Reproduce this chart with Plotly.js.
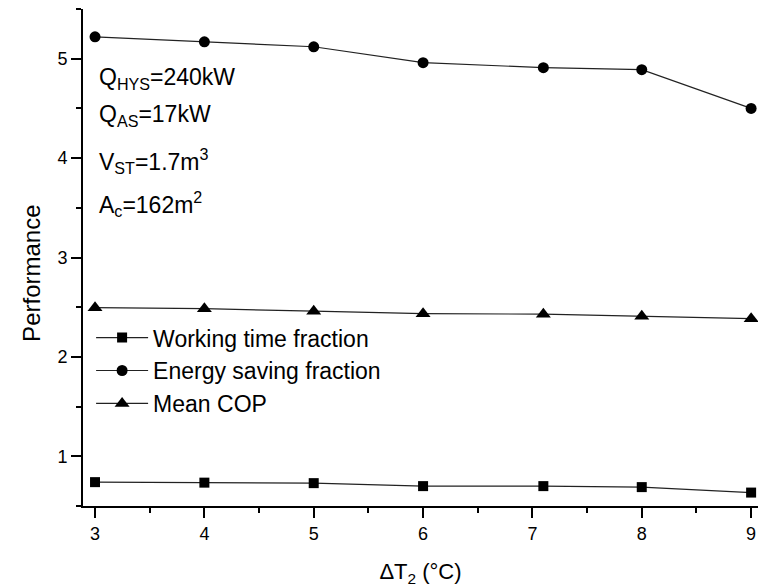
<!DOCTYPE html>
<html>
<head>
<meta charset="utf-8">
<script src="https://cdn.plot.ly/plotly-3.0.1.min.js"></script>
<style>html,body{margin:0;padding:0;background:#fff;}#chart{width:758px;height:587px;}</style>
</head>
<body>
<div id="chart"></div>
<script>
const deltaT2 = [3, 4, 5, 6, 7.1, 8, 9];
const workingTimeFraction = [0.74, 0.735, 0.73, 0.70, 0.70, 0.69, 0.635];
const energySavingFraction = [5.22, 5.17, 5.12, 4.96, 4.91, 4.89, 4.50];
const meanCOP = [2.495, 2.485, 2.46, 2.435, 2.43, 2.41, 2.385];
const seriesNames = ["Working time fraction", "Energy saving fraction", "Mean COP"];
const xTickVals = [3, 4, 5, 6, 7, 8, 9];
const yTickVals = [1, 2, 3, 4, 5];
const paramLines = ["Q<sub>HYS</sub>=240kW", "Q<sub>AS</sub>=17kW", "V<sub>ST</sub>=1.7m<sup>3</sup>", "A<sub>c</sub>=162m<sup>2</sup>"];
const paramY = [4.80, 4.43, 3.97, 3.535];
const yTitle = "Performance";
const xTitle = "ΔT<sub>2</sub> (°C)";

const FONT = "Liberation Sans, Arial, sans-serif";
const lineStyle = {color: "#222", width: 1.2};

const traces = [
  {x: deltaT2, y: workingTimeFraction, name: seriesNames[0], mode: "lines+markers",
   line: lineStyle, marker: {symbol: "square", size: 10, color: "#000"}},
  {x: deltaT2, y: energySavingFraction, name: seriesNames[1], mode: "lines+markers",
   line: lineStyle, marker: {symbol: "circle", size: 11, color: "#000"}},
  {x: deltaT2, y: meanCOP, name: seriesNames[2], mode: "lines+markers",
   line: lineStyle, marker: {symbol: "triangle-up", size: 13, color: "#000"}}
];

const annotations = paramLines.map((t, i) => ({
  text: t, xref: "paper", yref: "y", x: 0.021, y: paramY[i],
  xanchor: "left", yanchor: "middle", showarrow: false,
  font: {family: FONT, size: 23, color: "#000"}
}));
annotations.push({
  text: yTitle, xref: "paper", yref: "paper", x: -0.0756, y: 0.469,
  xanchor: "center", yanchor: "middle", textangle: -90, showarrow: false,
  font: {family: FONT, size: 24, color: "#000"}
});

const axisCommon = {
  showline: true, linecolor: "#000", linewidth: 2, mirror: false,
  ticks: "outside", ticklen: 10, tickwidth: 2, tickcolor: "#000",
  showgrid: false, zeroline: false,
  tickfont: {family: FONT, size: 18, color: "#000"}
};

const layout = {
  width: 758, height: 587,
  margin: {l: 83, r: 0, t: 9, b: 81},
  paper_bgcolor: "#fff", plot_bgcolor: "#fff",
  font: {family: FONT, color: "#000"},
  showlegend: true,
  legend: {x: 0.012, y: 0.382, xanchor: "left", yanchor: "top",
           bgcolor: "rgba(0,0,0,0)", font: {family: FONT, size: 23, color: "#000"},
           tracegroupgap: 0, itemwidth: 52},
  xaxis: Object.assign({}, axisCommon, {
    range: [2.89, 9.063], tickvals: xTickVals,
    minor: {ticks: "outside", ticklen: 5, tickwidth: 2, tickcolor: "#000", dtick: 0.5, tick0: 3},
    title: {text: xTitle, font: {family: FONT, size: 22, color: "#000"}, standoff: 22}
  }),
  yaxis: Object.assign({}, axisCommon, {
    range: [0.5, 5.5], tickvals: yTickVals,
    minor: {ticks: "outside", ticklen: 5, tickwidth: 2, tickcolor: "#000", dtick: 0.5, tick0: 0.5}
  }),
  annotations: annotations
};

Plotly.newPlot("chart", traces, layout, {displayModeBar: false, staticPlot: true});
</script>
</body>
</html>
